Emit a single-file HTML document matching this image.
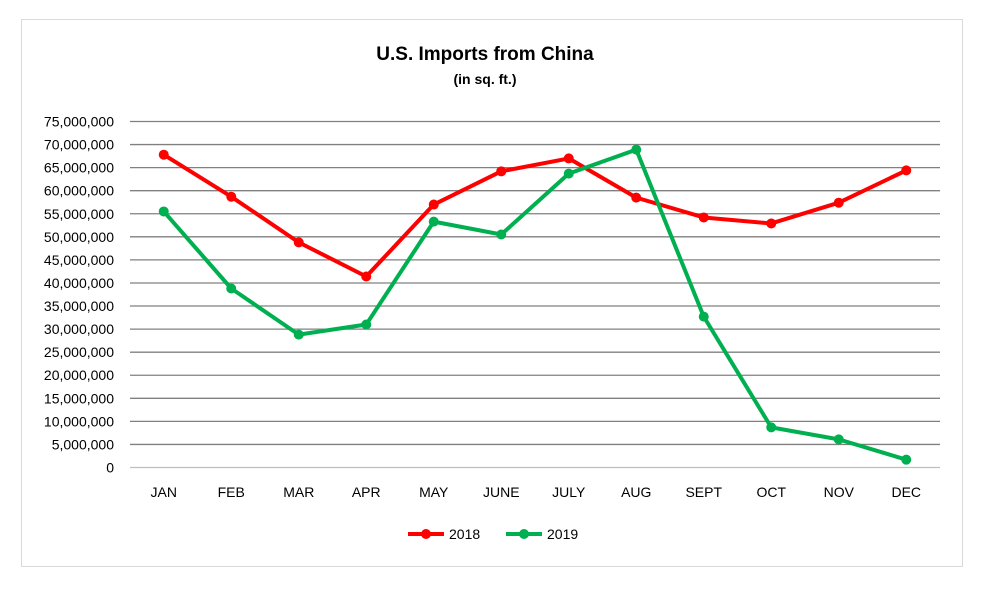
<!DOCTYPE html>
<html><head><meta charset="utf-8"><style>
body{margin:0;background:#fff;width:986px;height:586px;overflow:hidden;font-family:"Liberation Sans",sans-serif}
</style></head><body>
<svg id="chart" width="986" height="586" xmlns="http://www.w3.org/2000/svg">
<rect x="21.5" y="19.5" width="941" height="547" fill="#fff" stroke="#d9d9d9"/>
<text x="485" y="60" text-anchor="middle" font-size="19" font-weight="bold" fill="#000">U.S. Imports from China</text>
<text x="485" y="84" text-anchor="middle" font-size="14" font-weight="bold" fill="#000">(in sq. ft.)</text>
<g id="grid"></g><g id="ylabels"></g><g id="xlabels"></g><g id="series"></g>
<g>
<line x1="408" y1="534" x2="444" y2="534" stroke="#f00" stroke-width="4"/><circle cx="426" cy="534" r="5" fill="#f00"/>
<text x="449" y="539" font-size="14">2018</text>
<line x1="506" y1="534" x2="542" y2="534" stroke="#00b050" stroke-width="4"/><circle cx="524" cy="534" r="5" fill="#00b050"/>
<text x="547" y="539" font-size="14">2019</text>
</g>
</svg>
<script>
const categories=["JAN","FEB","MAR","APR","MAY","JUNE","JULY","AUG","SEPT","OCT","NOV","DEC"];
const values2018=[67.8,58.7,48.8,41.4,57.0,64.2,67.0,58.5,54.2,52.9,57.4,64.4];
const values2019=[55.5,38.8,28.8,31.0,53.3,50.5,63.7,68.9,32.7,8.7,6.1,1.7];
const yTicks=[0,5,10,15,20,25,30,35,40,45,50,55,60,65,70,75];
const yTickLabels=["0","5,000,000","10,000,000","15,000,000","20,000,000","25,000,000","30,000,000","35,000,000","40,000,000","45,000,000","50,000,000","55,000,000","60,000,000","65,000,000","70,000,000","75,000,000"];
const NS="http://www.w3.org/2000/svg";
const L=130,R=940,T=121.5,B=467.5;
const y=v=>B-(v/75)*(B-T);
const x=i=>L+(i+0.5)*(R-L)/categories.length;
function mk(t,a,p){const e=document.createElementNS(NS,t);for(const k in a)e.setAttribute(k,a[k]);p.appendChild(e);return e;}
const g=document.getElementById('grid'),yl=document.getElementById('ylabels'),xl=document.getElementById('xlabels'),s=document.getElementById('series');
yTicks.forEach((t,i)=>{
 const ln=mk('line',{x1:L,x2:R,y1:y(t),y2:y(t),stroke:t===0?'#bfbfbf':'#808080','stroke-width':1.3},g);
 
 
 const tx=mk('text',{x:114,y:y(t)+5,'text-anchor':'end','font-size':14,fill:'#000'},yl);
 tx.textContent=yTickLabels[i];
 
 
});
categories.forEach((c,i)=>{
 const tx=mk('text',{x:x(i),y:497,'text-anchor':'middle','font-size':14,fill:'#000'},xl);
 tx.textContent=c;
 
 
});
function draw(vals,color,name){
 const p=mk('polyline',{points:vals.map((v,i)=>x(i)+','+y(v)).join(' '),fill:'none',stroke:color,'stroke-width':4,'stroke-linejoin':'round'},s);
 
 
 vals.forEach((v,i)=>{
  const c=mk('circle',{cx:x(i),cy:y(v),r:5,fill:color},s);
  
  
 });
}
draw(values2018,'#ff0000','series-2018');
draw(values2019,'#00b050','series-2019');
</script>
</body></html>
